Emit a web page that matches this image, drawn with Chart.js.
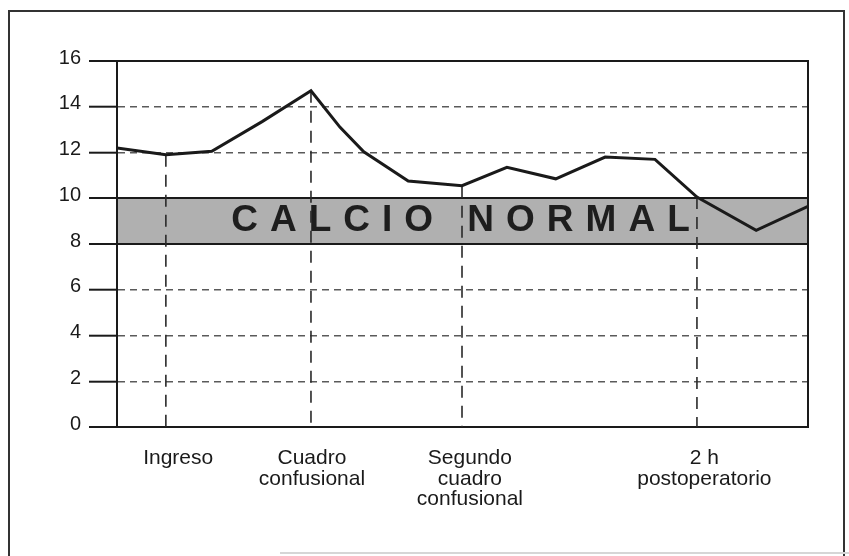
<!DOCTYPE html>
<html>
<head>
<meta charset="utf-8">
<script src="https://cdn.jsdelivr.net/npm/chart.js@4.4.1/dist/chart.umd.min.js"></script>
<style>
  html, body { margin: 0; padding: 0; background: #fff; }
  canvas { display: block; }
</style>
</head>
<body>
<canvas id="calcioChart" width="849" height="556"></canvas>
<script>
// tiempo (unidades arbitrarias en el eje x) y calcio sérico
const tiempo = [0, 9.9, 19.2, 29.4, 39.3, 45.2, 50.0, 59.0, 69.9, 79.0, 88.9, 98.9, 109.0, 117.5, 129.5, 140];
const calcio = [12.2, 11.9, 12.05, 13.35, 14.7, 13.1, 12.03, 10.75, 10.55, 11.35, 10.85, 11.8, 11.7, 10.05, 8.6, 9.65];

// momentos marcados con linea vertical (indice del punto) y sus etiquetas
const eventos = [1, 4, 8, 13];
const eventoPos = [12.4, 39.5, 71.5, 119];
const eventoLabels = [["Ingreso"], ["Cuadro", "confusional"], ["Segundo", "cuadro", "confusional"], ["2 h", "postoperatorio"]];

const yTicks = [0, 2, 4, 6, 8, 10, 12, 14, 16];
const rangoNormal = [8, 10];
const rangoLabel = "CALCIO NORMAL";

const INK = "#1a1a1a";
const solidas = [0, 8, 10, 16];

Chart.defaults.font.family = "'Liberation Sans', Arial, sans-serif";
Chart.defaults.color = INK;

// marco, banda de calcio normal y lineas de eventos
const decoPlugin = {
    id: "deco",
    beforeDraw(chart) {
        const { ctx, chartArea: a, scales: { y } } = chart;
        ctx.save();
        ctx.strokeStyle = "#333";
        ctx.lineWidth = 2;
        ctx.beginPath();
        ctx.moveTo(9, 560); ctx.lineTo(9, 11); ctx.lineTo(844, 11); ctx.lineTo(844, 560);
        ctx.stroke();
        ctx.strokeStyle = "#d6d6d6";
        ctx.beginPath(); ctx.moveTo(280, 553); ctx.lineTo(849, 553); ctx.stroke();

        const yTop = y.getPixelForValue(rangoNormal[1]);
        const yBot = y.getPixelForValue(rangoNormal[0]);
        ctx.fillStyle = "#b0b0b0";
        ctx.fillRect(a.left, yTop, a.right - a.left, yBot - yTop);

        ctx.font = "bold 37px 'Liberation Sans', Arial, sans-serif";
        ctx.letterSpacing = "12px";
        ctx.fillStyle = "#1e1e1e";
        ctx.textBaseline = "middle";
        ctx.textAlign = "left";
        const w = ctx.measureText(rangoLabel).width - 12;
        ctx.fillText(rangoLabel, (a.left + a.right) / 2 - w / 2 - 2, (yTop + yBot) / 2);
        ctx.restore();
    },
    beforeDatasetsDraw(chart) {
        const { ctx, chartArea: a } = chart;
        const pts = chart.getDatasetMeta(0).data;
        ctx.save();
        ctx.strokeStyle = "#2a2a2a";
        ctx.lineWidth = 1.6;
        ctx.setLineDash([12, 8]);
        eventos.forEach(i => {
            const p = pts[i];
            ctx.beginPath(); ctx.moveTo(p.x, p.y); ctx.lineTo(p.x, a.bottom); ctx.stroke();
        });
        ctx.setLineDash([]);
        ctx.strokeStyle = INK;
        ctx.lineWidth = 2;
        ctx.beginPath(); ctx.moveTo(a.right, a.top - 1); ctx.lineTo(a.right, a.bottom + 1); ctx.stroke();
        ctx.restore();
    }
};

new Chart(document.getElementById("calcioChart"), {
    type: "line",
    data: {
        datasets: [{
            data: tiempo.map((t, i) => ({ x: t, y: calcio[i] })),
            borderColor: INK,
            borderWidth: 3,
            pointRadius: 0,
            tension: 0,
            fill: false,
            borderJoinStyle: "miter"
        }]
    },
    options: {
        responsive: false,
        animation: false,
        layout: { padding: { top: 61, right: 41, left: 0, bottom: 0 } },
        plugins: { legend: { display: false }, tooltip: { enabled: false } },
        scales: {
            x: {
                type: "linear",
                min: 0,
                max: 140,
                afterBuildTicks: s => { s.ticks = eventoPos.map(v => ({ value: v })); },
                afterFit: s => { s.height = 129; },
                grid: { display: false, drawTicks: false },
                border: { display: true, color: INK, width: 2 },
                ticks: {
                    callback: (v, i) => eventoLabels[i],
                    autoSkip: false,
                    maxRotation: 0,
                    padding: 21,
                    font: { size: 21, lineHeight: 0.98 }
                }
            },
            y: {
                min: 0,
                max: 16,
                afterBuildTicks: s => { s.ticks = yTicks.map(v => ({ value: v })); },
                afterFit: s => { s.width = 117; },
                grid: {
                    color: c => (c.tick && !solidas.includes(c.tick.value)) ? "#5a5a5a" : INK,
                    lineWidth: c => (c.tick && !solidas.includes(c.tick.value)) ? 1.4 : 2,
                    tickLength: 28,
                    tickColor: INK,
                    tickWidth: 2
                },
                border: {
                    color: INK,
                    width: 2,
                    dash: c => (c.tick && !solidas.includes(c.tick.value)) ? [7, 5] : []
                },
                ticks: { padding: 8, labelOffset: -3, font: { size: 20 } }
            }
        }
    },
    plugins: [decoPlugin]
});
</script>
</body>
</html>
